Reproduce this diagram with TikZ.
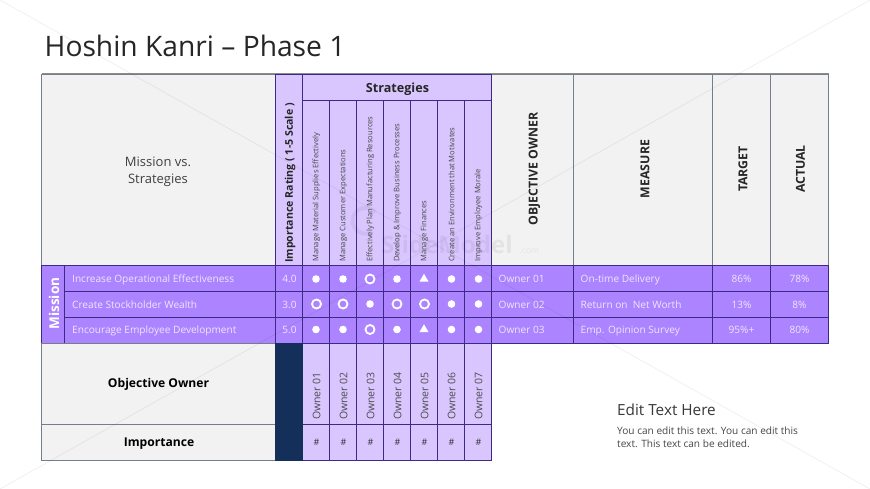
\documentclass[tikz,border=0pt]{standalone}
\usepackage{fontspec}
\setmainfont{Open Sans}
\usetikzlibrary{shapes.geometric}
\definecolor{rowp}{HTML}{AC84FF}
\definecolor{lightp}{HTML}{D9C6FF}
\definecolor{greyc}{HTML}{F2F2F2}
\definecolor{navyc}{HTML}{14305A}
\definecolor{linep}{HTML}{3B2A86}
\definecolor{lineg}{HTML}{767E8E}
\definecolor{rowt}{HTML}{EFE6FF}
\definecolor{inkc}{HTML}{262626}
\newcommand\fs[1]{\fontsize{#1}{17}\selectfont}
\newcommand\gridcell[6]{\node[#6,minimum width={(#4-#2)*1pt},minimum height={(#5-#3)*1pt}] (#1) at ({(#2+#4)/2-0.5},{(#3+#5)/2}) {};}
\tikzset{
 cellbase/.style={draw,inner sep=0pt,outer sep=0pt,line width=0.9pt},
 greycell/.style={cellbase,fill=greyc,draw=lineg},
 purplecell/.style={cellbase,fill=rowp,draw=linep},
 lightcell/.style={cellbase,fill=lightp,draw=linep},
 navycell/.style={cellbase,fill=navyc,draw=navyc},
 rowtext/.style={text=rowt,inner sep=0pt,font=\fs{10.1}},
 stext/.style={rotate=90,anchor=west,inner sep=0pt,text=black!72,font=\fs{7.6}},
 ownertext/.style={rotate=90,anchor=west,inner sep=0pt,text=black!70,font=\fs{10.5}},
 headtext/.style={rotate=90,inner sep=0pt,text=inkc,font=\bfseries\fs{12.3}},
 fulldot/.style={circle,fill=white,inner sep=0pt,minimum size=7.6pt},
 ringdot/.style={circle,draw=white,line width=1.8pt,fill=none,inner sep=0pt,minimum size=9pt},
 tridot/.style={regular polygon,regular polygon sides=3,fill=white,inner sep=0pt,minimum size=10.5pt},
 faintline/.style={black,opacity=0.06,line width=0.8pt},
 markstyle/.style={font=\fs{9},text=black!80,inner sep=0pt}
}
\begin{document}
\begin{tikzpicture}[x=1pt,y=-1pt]
\useasboundingbox[fill=white] (0,0) rectangle (870,489);
% title
\node[anchor=base west,inner sep=0pt,text=inkc,font=\fs{28.2}] (title) at (44.5,56.8) {Hoshin Kanri – Phase 1};
% top grey cells
\gridcell{corner}{42}{74}{276}{265}{greycell}
\gridcell{ownerhead}{492}{74}{574}{265}{greycell}
\gridcell{measurehead}{574}{74}{713}{265}{greycell}
\gridcell{targethead}{713}{74}{771}{265}{greycell}
\gridcell{actualhead}{771}{74}{829}{265}{greycell}
% importance + strategies header
\gridcell{imphead}{276}{74}{303}{265}{lightcell}
\gridcell{stratshead}{303}{74}{492}{100.5}{lightcell}
\foreach \i/\a/\b in {1/303/330,2/330/357,3/357/384,4/384/411,5/411/438,6/438/465,7/465/492}{
  \gridcell{scol\i}{\a}{100.5}{\b}{265}{lightcell}
  \gridcell{ocol\i}{\a}{343}{\b}{424}{lightcell}
  \gridcell{icol\i}{\a}{424}{\b}{460}{lightcell}
  \foreach \r/\p/\q in {1/265/291,2/291/317,3/317/343}{
    \gridcell{m\r c\i}{\a}{\p}{\b}{\q}{purplecell}
  }
}
% rows
\gridcell{missionbox}{42}{265}{65}{343}{purplecell}
\foreach \r/\p/\q in {1/265/291,2/291/317,3/317/343}{
  \gridcell{obj\r}{65}{\p}{276}{\q}{purplecell}
  \gridcell{rate\r}{276}{\p}{303}{\q}{purplecell}
  \gridcell{own\r}{492}{\p}{574}{\q}{purplecell}
  \gridcell{mea\r}{574}{\p}{713}{\q}{purplecell}
  \gridcell{tar\r}{713}{\p}{771}{\q}{purplecell}
  \gridcell{act\r}{771}{\p}{829}{\q}{purplecell}
}
% lower block
\gridcell{ooleft}{42}{343}{276}{424}{greycell}
\gridcell{impleft}{42}{424}{276}{460}{greycell}
\gridcell{navy}{276}{343}{303}{460}{navycell}
% lighter grey outer edge along the top of the table
\draw[line width=1pt,draw=black!45] (corner.north west) -- (actualhead.north east);
% faint background diagonals and watermark
\draw[faintline] (0,0) -- (870,489);
\draw[faintline] (870,0) -- (0,489);
\draw[black,opacity=0.05,line width=4pt] (372,232) arc (60:320:13);
\node[anchor=base west,inner sep=0pt,text=black,opacity=0.06,font=\bfseries\fs{24}] (wm1) at (381,253) {SlideModel};
\node[anchor=base west,inner sep=0pt,text=black,opacity=0.06,font=\fs{8.5}] (wm2) at (519.5,253) {.com};
% header texts
\node[align=center,inner sep=0pt,text=black!75,font=\fs{13}] (missiontxt) at (158,172) {Mission vs.\\Strategies};
\node[headtext,font=\bfseries\fs{10.6}] (imptxt) at (290,183) {Importance Rating ( 1-5 Scale )};
\node[inner sep=0pt,text=inkc,font=\bfseries\fs{12.6}] (strtxt) at (397.5,89) {Strategies};
\node[headtext] (t1) at (534.5,169) {OBJECTIVE OWNER};
\node[headtext] (t2) at (645,169) {MEASURE};
\node[headtext] (t3) at (743,169) {TARGET};
\node[headtext] (t4) at (800.5,169) {ACTUAL};
\foreach \i/\x/\t in {1/316.5/{Manage Material Supplies Effectively},2/343.5/{Manage Customer Expectations},3/370.5/{Effectively Plan Manufacturing Resources},4/397.5/{Develop \& Improve Business Processes},5/424.5/{Manage Finances},6/451.5/{Create an Environment that Motivates},7/478.5/{Improve Employee Morale}}{
  \node[stext] (st\i) at (\x,262) {\t};
  \node[ownertext] (ot\i) at (\x,420) {Owner 0\i};
  \node[markstyle] (ht\i) at (\x,442.5) {\#};
}
% rows text
\node[rotate=90,inner sep=0pt,text=white,font=\bfseries\fs{13.5}] (mistxt) at (54,303.5) {Mission};
\foreach \r/\y/\o/\v/\w/\m/\ta/\ac in {
 1/282/{Increase Operational Effectiveness}/4.0/{Owner 01}/{On-time Delivery}/86\%/78\%,
 2/308/{Create Stockholder Wealth}/3.0/{Owner 02}/{Return on~ Net Worth}/13\%/8\%,
 3/333.5/{Encourage Employee Development}/5.0/{Owner 03}/{Emp. Opinion Survey}/95\%+/80\%}{
  \node[rowtext,anchor=base west] (rl\r) at (72,\y) {\o};
  \node[rowtext,anchor=base] (vt\r) at (289.5,\y) {\v};
  \node[rowtext,anchor=base west] (wt\r) at (498.5,\y) {\w};
  \node[rowtext,anchor=base west] (mt\r) at (580.5,\y) {\m};
  \node[rowtext,anchor=base] (tt\r) at (741.5,\y) {\ta};
  \node[rowtext,anchor=base] (at\r) at (799.5,\y) {\ac};
}
% symbols
\foreach \x/\s in {316/fulldot,343/fulldot,370/ringdot,397/fulldot,424/tridot,451.5/fulldot,478.5/fulldot}{\node[\s] at (\x,279) {};}
\foreach \x/\s in {316.5/ringdot,343/ringdot,370/fulldot,397/ringdot,424.5/ringdot,451.5/fulldot,478.5/fulldot}{\node[\s] at (\x,304) {};}
\foreach \x/\s in {316/fulldot,343/fulldot,370/ringdot,397/fulldot,424/tridot,451.5/fulldot,478.5/fulldot}{\node[\s] at (\x,329.5) {};}
% lower left labels
\node[inner sep=0pt,text=black,font=\bfseries\fs{12.1}] (oolab) at (158.5,384) {Objective Owner};
\node[inner sep=0pt,text=black,font=\bfseries\fs{12.1}] (implab) at (159,443.5) {Importance};
% edit text
\node[anchor=base west,inner sep=0pt,text=black!78,font=\fs{15.3}] (edit1) at (617,415) {Edit Text Here};
\node[anchor=base west,inner sep=0pt,text=black!72,font=\fs{10.1}] (edit2) at (617,434.5) {You can edit this text. You can edit this};
\node[anchor=base west,inner sep=0pt,text=black!72,font=\fs{10.1}] (edit3) at (617,447.5) {text. This text can be edited.};
\end{tikzpicture}
\end{document}
